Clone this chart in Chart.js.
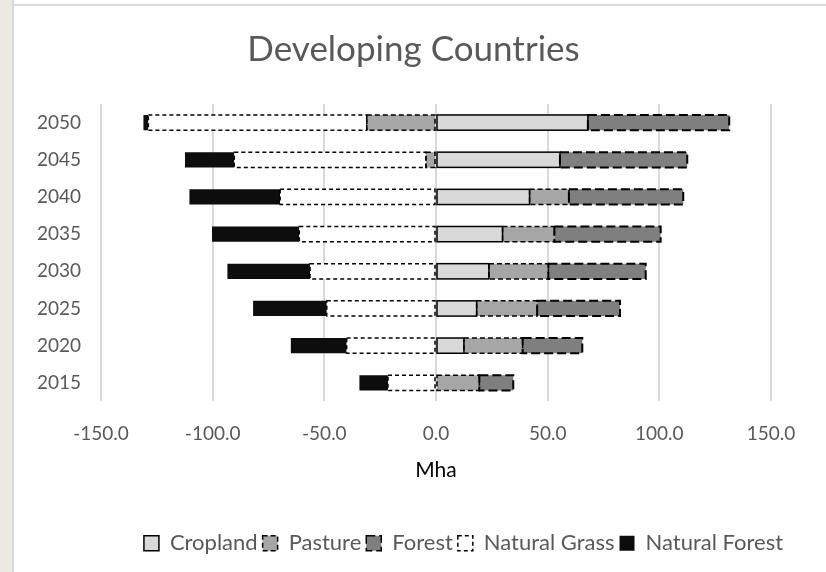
<!DOCTYPE html>
<html>
<head>
<meta charset="utf-8">
<script src="https://cdn.jsdelivr.net/npm/chart.js@4"></script>
<style>
  html, body { margin: 0; padding: 0; background: #fff; }
  #strip { position: absolute; left: 0; top: 0; width: 12px; height: 572px; background: #ECE9E0; }
  #edge { position: absolute; left: 12px; top: 0; width: 2px; height: 572px; background: #D9D9D9; }
  #topline { position: absolute; left: 14px; top: 4px; width: 812px; height: 2px; background: #D9D9D9; }
  #wrap { position: absolute; left: 14px; top: 0; width: 812px; height: 572px; }
</style>
</head>
<body>
<div id="strip"></div>
<div id="edge"></div>
<div id="topline"></div>
<div id="wrap"><canvas id="c" width="812" height="572"></canvas></div>
<script>
const years = ['2050', '2045', '2040', '2035', '2030', '2025', '2020', '2015']
const cropland = [68.0, 55.5, 41.9, 29.8, 23.7, 18.2, 12.5, 0]
const pasture = [-31.0, -4.5, 17.6, 23.2, 26.6, 27.1, 26.3, 19.4]
const forest = [63.3, 57.0, 51.2, 47.6, 43.6, 37.1, 26.7, 15.2]
const naturalGrass = [-97.8, -85.8, -69.8, -61.2, -56.4, -48.9, -40.0, -21.5]
const naturalForest = [-2.2, -22.1, -40.6, -39.1, -37.0, -33.0, -25.0, -12.8]
const xTicks = [-150, -100, -50, 0, 50, 100, 150]

const FONT = 'Lato, "Open Sans", sans-serif'

// Chart.js bars have no dashed borders, so draw the outlines here from the bar elements
const dashBorders = {
  id: 'dashBorders',
  afterDatasetsDraw(chart) {
    const ctx = chart.ctx
    chart.data.datasets.forEach((ds, i) => {
      if (!ds.outline) return
      const meta = chart.getDatasetMeta(i)
      meta.data.forEach((el, j) => {
        if (!ds.data[j]) return
        const p = el.getProps(['x', 'y', 'base', 'height'], true)
        const l = Math.min(p.x, p.base), r = Math.max(p.x, p.base)
        const t = p.y - p.height / 2
        ctx.save()
        ctx.strokeStyle = '#000'
        ctx.lineWidth = ds.outline.width
        ctx.setLineDash(ds.outline.dash)
        ctx.strokeRect(l, t, r - l, p.height)
        ctx.restore()
      })
    })
  }
}

// title and legend in the original sit a bit right of the plot centre
const nudge = {
  id: 'nudge',
  afterLayout(chart) {
    const shift = (box, d) => { if (box) { box.left += d; box.right += d } }
    shift(chart.titleBlock, 21)
    shift(chart.legend, 71)
  }
}

const mk = (label, data, color, outline) => ({
  label, data, backgroundColor: color, borderWidth: 0, outline,
})

new Chart(document.getElementById('c'), {
  type: 'bar',
  data: {
    labels: years,
    datasets: [
      mk('Cropland', cropland, '#D9D9D9', { width: 1.5, dash: [] }),
      mk('Pasture', pasture, '#A6A6A6', { width: 1.5, dash: [5, 3] }),
      mk('Forest', forest, '#7F7F7F', { width: 2, dash: [9, 4] }),
      mk('Natural Grass', naturalGrass, '#FFFFFF', { width: 1.5, dash: [4, 3] }),
      mk('Natural Forest', naturalForest, '#0D0D0D', null),
    ],
  },
  options: {
    indexAxis: 'y',
    responsive: false,
    animation: false,
    datasets: { bar: { categoryPercentage: 1, barPercentage: 0.41 } },
    layout: { padding: { left: 0, right: 55, top: 0, bottom: 7.8 } },
    plugins: {
      title: {
        display: true, text: 'Developing Countries', color: '#595959',
        font: { family: FONT, size: 35, weight: 'normal' }, padding: { top: 29, bottom: 33 },
      },
      legend: {
        position: 'bottom',
        labels: {
          font: { family: FONT, size: 22 }, color: '#595959',
          boxWidth: 15, boxHeight: 15, padding: 5,
          generateLabels: chart => chart.data.datasets.map((ds, i) => ({
            text: ds.label, fillStyle: ds.backgroundColor,
            strokeStyle: ds.outline ? '#000' : ds.backgroundColor,
            lineWidth: ds.outline ? 1.5 : 0,
            lineDash: ds.outline ? ds.outline.dash : [],
            fontColor: '#595959', datasetIndex: i, hidden: false,
          })),
        },
      },
      tooltip: { enabled: false },
    },
    scales: {
      x: {
        stacked: true, min: -150, max: 150,
        afterBuildTicks: s => { s.ticks = xTicks.map(v => ({ value: v })) },
        afterFit: s => { s.height = 125.8 },
        ticks: { font: { family: FONT, size: 19 }, color: '#595959', padding: 21, callback: v => v.toFixed(1) },
        grid: { color: '#D9D9D9', lineWidth: 2, drawTicks: false },
        border: { display: false },
        title: { display: true, text: 'Mha', color: '#000', font: { family: FONT, size: 21 }, padding: { top: 4, bottom: 44 } },
      },
      y: {
        stacked: true,
        afterFit: s => { s.width = 87 },
        ticks: { font: { family: FONT, size: 19 }, color: '#595959', padding: 12 },
        grid: { display: false },
        border: { display: false },
      },
    },
  },
  plugins: [dashBorders, nudge],
})
</script>
</body>
</html>
